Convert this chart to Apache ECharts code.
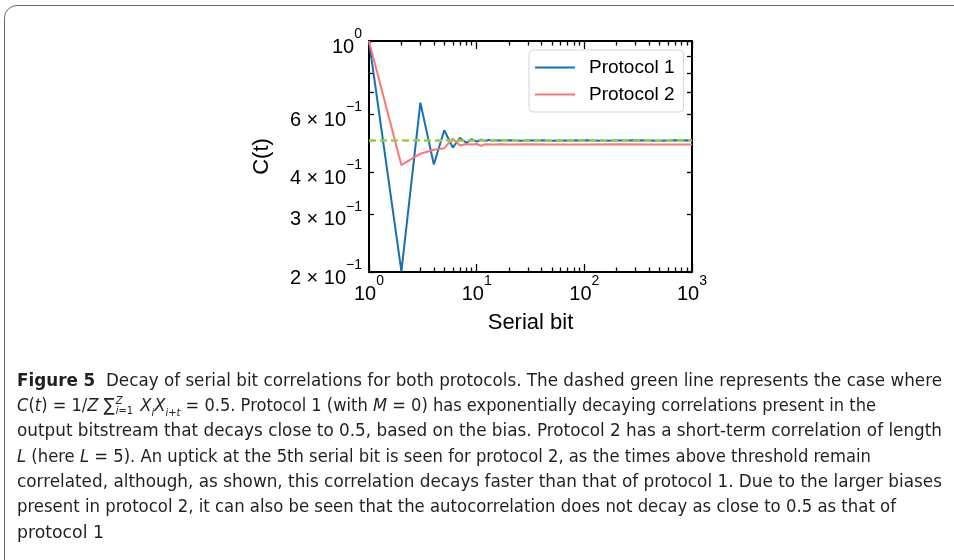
<!DOCTYPE html>
<html lang="en">
<head>
<meta charset="UTF-8">
<title>Figure 5</title>
<style>
    html, body { margin: 0; padding: 0; background: #fff; overflow: hidden; }
    #wrap { position: relative; width: 954px; height: 560px; overflow: hidden; }
    #chart { position: absolute; left: 0; top: 0; width: 954px; height: 560px; }
    #frame {
        position: absolute; left: 4px; top: 5px; width: 1000px; height: 600px;
        border: 1.5px solid #6b6b6b; border-radius: 13px; box-sizing: border-box;
    }
    .cap {
        position: absolute; left: 17px; white-space: nowrap; color: #231f20;
        font-family: "Liberation Sans Narrow", "DejaVu Sans Condensed", "Noto Sans", sans-serif;
        font-size: 18px; line-height: 24px; transform-origin: 0 50%;
    }
    .cap b { font-weight: bold; }
    .lim {
        display: inline-block; vertical-align: middle; font-size: 11px; line-height: 10px;
        text-align: left; margin: 0 2px 0 1px;
    }
    .lim span { display: block; }
    sub { font-size: 11px; line-height: 0; }
</style>
</head>
<body>
<div id="wrap">
    <div id="frame"></div>
    <div id="chart"></div>
    <div class="cap" data-right="942" style="top:368px"><b>Figure 5</b>&nbsp; Decay of serial bit correlations for both protocols. The dashed green line represents the case where</div>
    <div class="cap" data-right="876" style="top:393px"><i>C</i>(<i>t</i>) = 1/<i>Z</i> &sum;<span class="lim"><span><i>Z</i></span><span><i>i</i>=1</span></span> <i>X<sub>i</sub>X<sub>i+t</sub></i> = 0.5. Protocol 1 (with <i>M</i> = 0) has exponentially decaying correlations present in the</div>
    <div class="cap" data-right="942" style="top:418px">output bitstream that decays close to 0.5, based on the bias. Protocol 2 has a short-term correlation of length</div>
    <div class="cap" data-right="871" style="top:444px"><i>L</i> (here <i>L</i> = 5). An uptick at the 5th serial bit is seen for protocol 2, as the times above threshold remain</div>
    <div class="cap" data-right="942" style="top:469px">correlated, although, as shown, this correlation decays faster than that of protocol 1. Due to the larger biases</div>
    <div class="cap" data-right="896" style="top:494px">present in protocol 2, it can also be seen that the autocorrelation does not decay as close to 0.5 as that of</div>
    <div class="cap" data-right="104" style="top:520px">protocol 1</div>
</div>
<script src="https://cdn.jsdelivr.net/npm/echarts@6/dist/echarts.min.js"></script>
<script>
// serial bit (x) and correlation C(t) (y)
var bitsP1 = [1, 2, 3, 4, 5, 6, 7, 8, 9, 10, 11, 12, 13, 14, 15, 17, 20, 25, 30, 40, 50, 70, 100, 150, 200, 300, 400, 500, 700, 1000];
var corrP1 = [1.0, 0.201, 0.651, 0.423, 0.537, 0.476, 0.509, 0.492, 0.505, 0.496, 0.503, 0.498, 0.502, 0.499, 0.501, 0.5, 0.501, 0.499, 0.5, 0.501, 0.499, 0.5, 0.501, 0.499, 0.5, 0.501, 0.5, 0.499, 0.501, 0.5];

var bitsP2 = [1, 2, 3, 4, 5, 6, 7, 8, 9, 10, 11, 12, 14, 17, 20, 30, 50, 100, 200, 500, 1000];
var corrP2 = [1.0, 0.421, 0.456, 0.469, 0.474, 0.506, 0.483, 0.488, 0.486, 0.488, 0.482, 0.487, 0.486, 0.487, 0.486, 0.487, 0.486, 0.486, 0.487, 0.486, 0.486];

var thresholdX = [1, 1000];
var thresholdY = [0.5, 0.5];

// tick positions and labels
var xMajor = [1, 10, 100, 1000];
var xMajorExp = ['0', '1', '2', '3'];
var xMinor = [2, 3, 4, 5, 6, 7, 8, 9, 20, 30, 40, 50, 60, 70, 80, 90, 200, 300, 400, 500, 600, 700, 800, 900];
var yTicks = [0.2, 0.3, 0.4, 0.5, 0.6, 0.7, 0.8, 0.9, 1];
var yLabelValues = [0.2, 0.3, 0.4, 0.6, 1];
var yLabelMant = ['2 × 10', '3 × 10', '4 × 10', '6 × 10', '10'];
var yLabelExp = ['−1', '−1', '−1', '−1', '0'];

function pairs(xs, ys) {
    var out = [];
    for (var i = 0; i < xs.length; i++) out.push([xs[i], ys[i]]);
    return out;
}
function lg(arr) {
    return arr.map(function (v) { return Math.log10(v); });
}
function findIdx(vals, v) {
    for (var i = 0; i < vals.length; i++) {
        if (Math.abs(Math.log10(vals[i]) - v) < 1e-6) return i;
    }
    return -1;
}

var FONT = '"Liberation Sans", Arial, sans-serif';
var rich = {
    b: { fontSize: 20, lineHeight: 20, padding: [12, 0, 0, 0], color: '#000', fontFamily: FONT },
    s: { fontSize: 14, lineHeight: 14, padding: [0, 0, 14, 0], color: '#000', fontFamily: FONT }
};

var xMin = Math.log10(1), xMax = Math.log10(1000);
var yMin = Math.log10(0.2), yMax = Math.log10(1);

function tickAxis(pos, values, len, withLine, label) {
    var horiz = (pos === 'top' || pos === 'bottom');
    var ax = {
        type: 'value', position: pos,
        min: horiz ? xMin : yMin,
        max: horiz ? xMax : yMax,
        axisLine: { show: withLine, onZero: false, lineStyle: { color: '#000', width: 2 } },
        axisTick: { show: true, inside: true, length: len, customValues: lg(values), lineStyle: { color: '#000', width: 1.3 } },
        axisLabel: { show: false },
        splitLine: { show: false }
    };
    if (label) ax.axisLabel = label;
    return ax;
}

var chart = echarts.init(document.getElementById('chart'));

var option = {
    animation: false,
    grid: { left: 369, right: 262, top: 41, bottom: 288, containLabel: false },
    legend: {
        data: ['Protocol 1', 'Protocol 2'],
        orient: 'vertical', left: 529, top: 50,
        icon: 'rect', itemWidth: 40, itemHeight: 2, itemGap: 8,
        padding: [8, 9, 8, 6],
        backgroundColor: '#fff', borderColor: '#d4d4d4', borderWidth: 1, borderRadius: 4,
        textStyle: { fontSize: 19, color: '#000', fontFamily: FONT, padding: [0, 0, 0, 9] }
    },
    xAxis: [
        {
            type: 'log', logBase: 10, min: 1, max: 1000, position: 'bottom',
            axisLine: { show: true, onZero: false, lineStyle: { color: '#000', width: 2 } },
            axisTick: { show: false }, axisLabel: { show: false }, splitLine: { show: false },
            name: 'Serial bit', nameLocation: 'middle', nameGap: 40,
            nameTextStyle: { fontSize: 22, color: '#000', fontFamily: FONT }
        },
        tickAxis('bottom', xMajor, 8, false, {
            show: true, margin: 6, customValues: lg(xMajor),
            formatter: function (v) {
                var i = findIdx(xMajor, v);
                return '{b|10}{s|' + xMajorExp[i] + '}';
            },
            rich: rich
        }),
        tickAxis('bottom', xMinor, 4.5, false),
        tickAxis('top', xMajor, 8, true),
        tickAxis('top', xMinor, 4.5, false)
    ],
    yAxis: [
        {
            type: 'log', logBase: 10, min: 0.2, max: 1, position: 'left',
            axisLine: { show: true, onZero: false, lineStyle: { color: '#000', width: 2 } },
            axisTick: { show: false }, axisLabel: { show: false }, splitLine: { show: false },
            name: 'C(t)', nameLocation: 'middle', nameGap: 96, nameRotate: 90,
            nameTextStyle: { fontSize: 22, color: '#000', fontFamily: FONT }
        },
        tickAxis('left', yTicks, 5, false, {
            show: true, margin: 7, customValues: lg(yLabelValues),
            formatter: function (v) {
                var i = findIdx(yLabelValues, v);
                return '{b|' + yLabelMant[i] + '}{s|' + yLabelExp[i] + '}';
            },
            rich: rich
        }),
        tickAxis('right', yTicks, 5, true)
    ],
    series: [
        {
            name: 'Protocol 1', type: 'line', xAxisIndex: 0, yAxisIndex: 0,
            data: pairs(bitsP1, corrP1), symbol: 'none', color: '#1570b8',
            lineStyle: { width: 2, color: '#1570b8' }, z: 2
        },
        {
            name: 'Protocol 2', type: 'line', xAxisIndex: 0, yAxisIndex: 0,
            data: pairs(bitsP2, corrP2), symbol: 'none', color: '#ff7474',
            lineStyle: { width: 2, color: '#ff7474' }, z: 3
        },
        {
            name: 'threshold', type: 'line', xAxisIndex: 0, yAxisIndex: 0,
            data: pairs(thresholdX, thresholdY), symbol: 'none', silent: true,
            lineStyle: { width: 2.5, color: '#92cf4c', type: [7, 4] }, z: 4
        }
    ]
};

chart.setOption(option);

// stretch each caption line to the width it has in the figure
var caps = document.querySelectorAll('.cap');
for (var k = 0; k < caps.length; k++) {
    var el = caps[k];
    var w = el.getBoundingClientRect().width;
    var target = parseFloat(el.getAttribute('data-right')) - 17;
    el.style.transform = 'scaleX(' + (target / w).toFixed(4) + ')';
}
</script>
</body>
</html>
